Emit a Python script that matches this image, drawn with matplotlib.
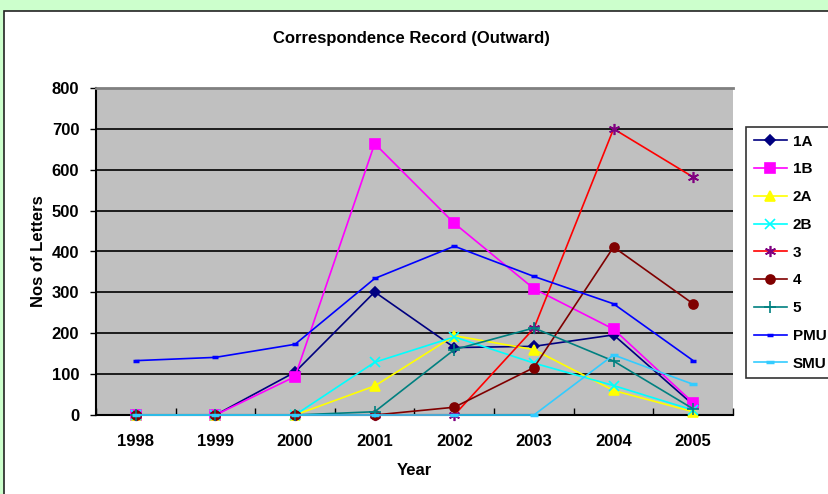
import matplotlib.pyplot as plt
from matplotlib.patches import Rectangle

plt.rcParams["font.family"] = ["Liberation Sans", "DejaVu Sans"]
plt.rcParams["font.weight"] = "bold"

years = ["1998", "1999", "2000", "2001", "2002", "2003", "2004", "2005"]

s_1a = [0, 0, 105, 301, 165, 168, 196, 25]
s_1b = [0, 0, 94, 664, 469, 309, 210, 30]
s_2a = [0, 0, 0, 71, 194, 160, 60, 8]
s_2b = [0, 0, 0, 129, 191, 127, 72, 12]
s_3 = [0, 0, 0, 0, 0, 212, 700, 582]
s_4 = [0, 0, 0, 0, 19, 116, 411, 272]
s_5 = [0, 0, 0, 8, 160, 213, 132, 15]
s_pmu = [133, 141, 173, 334, 413, 339, 272, 133]
s_smu = [0, 0, 0, 0, 0, 0, 147, 75]

# label, values, line colour, marker, marker colour, marker size
series = [
    ("1A", s_1a, "#000080", "D", "#000080", 5.5),
    ("1B", s_1b, "#FF00FF", "s", "#FF00FF", 6.5),
    ("2A", s_2a, "#FFFF00", "^", "#FFFF00", 7),
    ("2B", s_2b, "#00FFFF", "x", "#00FFFF", 7),
    ("3", s_3, "#FF0000", (6, 2, 0), "#800080", 8),
    ("4", s_4, "#800000", "o", "#800000", 6.5),
    ("5", s_5, "#008080", "+", "#008080", 8),
    ("PMU", s_pmu, "#0000FF", "_", "#0000FF", 5),
    ("SMU", s_smu, "#33CCFF", "_", "#33CCFF", 6),
]

fig = plt.figure(figsize=(8.29, 4.94), dpi=100)
fig.patch.set_facecolor("#CCFFCC")

# white chart panel with a dark border, kept behind the axes
fig.patches.append(Rectangle((4 / 829, -0.1), 1.0, 1 - 11 / 494 + 0.1,
                             transform=fig.transFigure, facecolor="white",
                             edgecolor="#222222", linewidth=1.2, zorder=-5))

ax = fig.add_axes([96 / 829, 1 - 415 / 494, (733 - 96) / 829, (415 - 88) / 494])
ax.set_facecolor("#C0C0C0")

x = list(range(len(years)))
for label, vals, lc, mk, mc, ms in series:
    mew = 2.5 if mk == "_" else 1.2
    ax.plot(x, vals, color=lc, linewidth=1.2, marker=mk, markersize=ms,
            markerfacecolor=mc, markeredgecolor=mc, markeredgewidth=mew,
            label=label, clip_on=False, zorder=3)

ax.set_xlim(-0.5, 7.5)
ax.set_ylim(0, 800)
ax.set_yticks(range(0, 801, 100))
ax.yaxis.grid(True, color="black", linewidth=1.2)
ax.set_axisbelow(True)

ax.set_xticks(x)
ax.set_xticklabels(years)
ax.set_xticks([i - 0.5 for i in range(len(years) + 1)], minor=True)
ax.tick_params(axis="x", which="major", length=0, pad=14, labelsize=12)
ax.tick_params(axis="x", which="minor", length=5, direction="in", width=1)
ax.tick_params(axis="y", length=4, direction="out", width=1, labelsize=12, pad=8)

for lbl in ax.get_xticklabels() + ax.get_yticklabels():
    lbl.set_fontweight("bold")

ax.spines["left"].set_color("black")
ax.spines["bottom"].set_color("black")
ax.spines["left"].set_linewidth(1.5)
ax.spines["bottom"].set_linewidth(1.5)
ax.spines["top"].set_color("#808080")
ax.spines["top"].set_linewidth(2)
ax.spines["right"].set_visible(False)

ax.set_ylabel("Nos of Letters", fontsize=12, fontweight="bold", labelpad=4)
ax.set_xlabel("Year", fontsize=12, fontweight="bold", labelpad=10)

fig.text(411 / 829, 1 - 38 / 494, "Correspondence Record (Outward)",
         ha="center", va="center", fontsize=12, fontweight="bold")

leg = ax.legend(loc="upper left", bbox_to_anchor=(746 / 829, 1 - 127 / 494),
                bbox_transform=fig.transFigure, frameon=True, fancybox=False,
                edgecolor="black", facecolor="white", fontsize=11,
                handlelength=2.2, labelspacing=0.9, borderpad=0.5,
                handletextpad=0.35, borderaxespad=0)
leg.get_frame().set_linewidth(1.2)
for t in leg.get_texts():
    t.set_fontweight("bold")

fig.savefig("out.png", dpi=100)
